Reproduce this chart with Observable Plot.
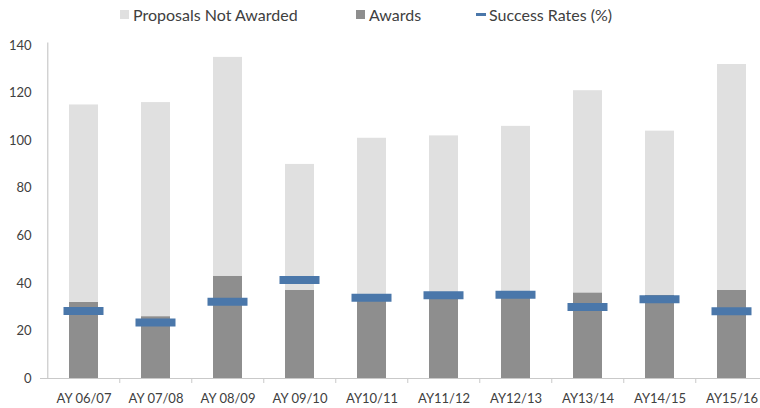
<!DOCTYPE html>
<html><head><meta charset="utf-8">
<script src="https://cdn.jsdelivr.net/npm/d3@7"></script>
<script src="https://cdn.jsdelivr.net/npm/@observablehq/plot@0.6"></script>
<style>
body{margin:0;background:#fff;font-family:Lato, "Open Sans", sans-serif;}
#legend{height:30px;position:relative;color:#404040;font-size:16px;}
.item{position:absolute;top:0;height:28px;display:flex;align-items:center;white-space:nowrap;}
.sw{width:9px;height:9px;margin-right:4px;}
.dash{width:10px;height:3px;margin-right:3px;}
</style></head><body>
<div id="legend"></div><div id="chart"></div>
<script>
const years = ["AY 06/07","AY 07/08","AY 08/09","AY 09/10","AY10/11","AY11/12","AY12/13","AY13/14","AY14/15","AY15/16"];
const awards = [32,26,43,37,34,36,36,36,35,37];
const notAwarded = [83,90,92,53,67,66,70,85,69,95];
const successRates = [28.4,23.5,32.3,41.4,34.0,35.0,35.2,30.1,33.3,28.3];
const yTicks = [0,20,40,60,80,100,120,140];
const seriesNames = ["Proposals Not Awarded","Awards","Success Rates (%)"];
const seriesColors = ["#e0e0e0","#8e8e8e","#4a77aa"];

// legend
const legend = document.getElementById("legend");
const legendLeft = [120, 356, 476];
seriesNames.forEach((name, i) => {
  const it = document.createElement("div");
  it.className = "item";
  it.style.left = legendLeft[i] + "px";
  const sw = document.createElement("span");
  sw.className = i === 2 ? "dash" : "sw";
  sw.style.background = seriesColors[i];
  it.appendChild(sw);
  const t = document.createElement("span");
  t.textContent = name;
  it.appendChild(t);
  legend.appendChild(it);
});

const stacked = [];
years.forEach((y, i) => {
  stacked.push({year: y, series: seriesNames[1], value: awards[i]});
  stacked.push({year: y, series: seriesNames[0], value: notAwarded[i]});
});
const rates = years.map((y, i) => ({year: y, rate: successRates[i]}));

const x0 = 45.3, x1 = 769.8;
const step = (x1 - x0) / years.length;
const axisColor = "#c9c9c9";
const textColor = "#404040";

const chart = Plot.plot({
  width: 760,
  height: 378,
  marginTop: 15,
  marginBottom: 30,
  marginLeft: 44,
  marginRight: 0,
  style: {fontFamily: "Lato, 'Open Sans', sans-serif", background: "#fff"},
  x: {type: "band", domain: years, range: [x0, x1], paddingInner: 0.6, paddingOuter: 0.3, label: null},
  y: {domain: [0, 140], label: null},
  color: {domain: seriesNames.slice(0, 2), range: seriesColors.slice(0, 2)},
  marks: [
    Plot.barY(stacked, {x: "year", y: "value", fill: "series", order: null}),
    Plot.tickY(rates, {x: "year", y: "rate", stroke: seriesColors[2], strokeWidth: 8, insetLeft: -5.5, insetRight: -5.5}),
    Plot.ruleY([0], {stroke: axisColor, strokeWidth: 1.2, insetLeft: -4}),
    Plot.ruleX([years[0]], {x: d => d, y1: 0, y2: 141, dx: -step / 2, stroke: axisColor, strokeWidth: 1.2}),
    Plot.axisY({ticks: yTicks, tickSize: 0, tickPadding: 13, fontSize: 13, fill: textColor, label: null}),
    Plot.axisX({ticks: years.slice(1), tickSize: 5, tickFormat: () => "", dx: -step / 2, stroke: axisColor, label: null}),
    Plot.axisX({tickSize: 0, tickPadding: 15, fontSize: 13, fill: textColor, label: null})
  ]
});
document.getElementById("chart").appendChild(chart);
</script>
</body></html>
